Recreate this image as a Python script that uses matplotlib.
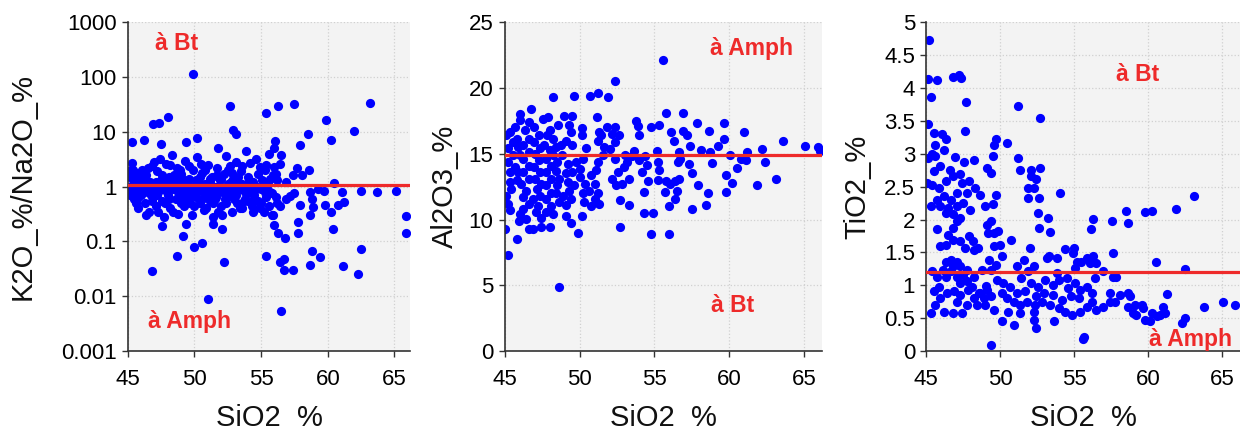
import matplotlib
matplotlib.use("Agg")
import matplotlib.pyplot as plt
from matplotlib.ticker import FuncFormatter, FixedLocator

plt.rcParams['font.family'] = ['Liberation Sans', 'DejaVu Sans']

# ---- data (SiO2 %, value) ----
k2o_na2o = [
    # outliers
    (49.9, 114), (52.7, 30), (55.4, 22), (56.3, 30), (57.5, 32), (63.15, 34),
    (48.0, 19), (46.9, 14), (47.35, 14.5), (59.85, 16.6), (62.0, 10.2),
    (60.25, 7.0), (58.5, 9.1), (57.9, 5.8), (52.9, 11), (53.15, 9.0),
    (45.3, 6.5), (46.2, 7.0), (47.5, 6.0), (50.2, 7.7), (49.35, 6.5), (51.8, 5.0),
    (65.9, 0.29), (65.9, 0.145), (63.7, 0.81), (65.1, 0.82), (62.5, 0.83),
    (60.4, 0.17), (62.5, 0.072), (61.15, 0.035), (62.25, 0.026),
    (58.8, 0.068), (59.4, 0.052), (58.7, 0.037), (56.8, 0.115), (56.25, 0.14),
    (57.8, 0.14), (57.75, 0.23), (55.4, 0.055), (56.4, 0.042), (56.7, 0.047),
    (56.7, 0.03), (57.4, 0.03), (56.5, 0.0055), (51.05, 0.0091), (46.8, 0.029),
    (48.7, 0.055), (49.15, 0.126), (50.0, 0.078), (50.6, 0.093), (52.2, 0.042),
    (47.55, 0.19), (52.05, 0.17), (51.4, 0.21), (49.35, 0.21),
    (60.5, 1.15), (61.05, 0.8), (61.25, 0.52), (60.75, 0.46), (60.25, 0.34),
    (59.8, 0.47), (59.7, 0.82), (59.3, 0.92), (58.9, 0.43), (58.8, 0.6),
    (58.7, 0.8), (58.7, 0.3), (57.9, 0.47), (58.6, 2.0), (58.1, 1.6),
    (57.7, 2.2), (57.4, 1.6), (57.5, 0.75), (57.2, 0.68), (56.9, 0.6),
    (56.9, 1.2), (56.4, 0.45), (56.5, 3.7), (56.4, 2.6), (56.05, 6.8),
    (56.0, 5.0), (56.0, 2.3), (56.1, 1.7), (56.2, 1.3), (56.1, 0.65),
    (56.2, 0.5), (55.9, 0.3), (56.0, 0.2),
    # main cloud
    (45.1, 0.8), (45.2, 1.5), (45.3, 2.7), (45.4, 1.1), (45.5, 0.6), (45.6, 1.8),
    (45.7, 0.9), (45.8, 0.4), (45.9, 1.3), (46.0, 0.7), (46.1, 2.0), (46.2, 1.0),
    (46.3, 0.5), (46.4, 1.6), (46.5, 0.8), (46.6, 0.35), (46.7, 1.2), (46.8, 2.4),
    (46.9, 0.65), (47.0, 1.0), (47.1, 0.45), (47.2, 1.9), (47.3, 0.8), (47.4, 3.2),
    (47.5, 1.3), (47.6, 0.55), (47.7, 0.28), (47.8, 1.0), (47.9, 2.6), (48.0, 0.7),
    (48.1, 1.5), (48.2, 0.4), (48.3, 3.8), (48.4, 0.9), (48.5, 1.2), (48.6, 0.6),
    (48.7, 2.2), (48.8, 0.32), (48.9, 1.0), (49.0, 1.7), (49.1, 0.75), (49.2, 0.45),
    (49.3, 2.9), (49.4, 1.1), (49.5, 0.6), (49.6, 1.4), (49.7, 0.85), (49.8, 0.3),
    (49.9, 2.0), (50.0, 1.0), (50.1, 0.65), (50.2, 3.5), (50.3, 1.2), (50.4, 0.5),
    (50.5, 0.9), (50.6, 1.8), (50.7, 0.38), (50.8, 1.1), (50.9, 0.7), (51.0, 2.5),
    (51.1, 0.9), (51.2, 0.55), (51.3, 1.5), (51.4, 0.28), (51.5, 1.0), (51.6, 0.65),
    (51.7, 2.2), (51.8, 0.8), (51.9, 1.3), (52.0, 0.45), (52.1, 0.95), (52.2, 1.7),
    (52.3, 0.6), (52.4, 3.6), (52.5, 1.1), (52.6, 0.7), (52.7, 2.4), (52.8, 0.35),
    (52.9, 1.4), (53.0, 0.85), (53.1, 2.8), (53.2, 0.5), (53.3, 1.2), (53.4, 0.9),
    (53.5, 1.9), (53.6, 0.4), (53.7, 1.0), (53.8, 0.6), (53.9, 4.5), (54.0, 1.5),
    (54.1, 0.8), (54.2, 2.7), (54.3, 0.45), (54.4, 1.2), (54.5, 0.7), (54.6, 3.2),
    (54.7, 1.0), (54.8, 0.55), (54.9, 2.3), (55.0, 0.9), (55.1, 1.3), (55.2, 0.35),
    (55.3, 2.0), (55.4, 0.65), (55.5, 1.1), (55.6, 4.0), (55.7, 0.8), (55.8, 0.3),
    (55.9, 1.6),
    (45.2, 0.7), (45.4, 2.0), (45.6, 0.5), (45.8, 1.2), (46.0, 1.6), (46.2, 0.8),
    (46.4, 0.3), (46.6, 1.0), (46.8, 0.55), (47.0, 2.8), (47.2, 0.7), (47.4, 1.1),
    (47.6, 1.6), (47.8, 0.5), (48.0, 1.2), (48.2, 2.5), (48.4, 0.35), (48.6, 1.1),
    (48.8, 0.8), (49.0, 0.5), (49.2, 1.3), (49.4, 0.7), (49.6, 2.4), (49.8, 1.0),
    (50.0, 0.45), (50.2, 0.8), (50.4, 1.5), (50.6, 0.6), (50.8, 2.0), (51.0, 0.85),
    (51.2, 1.2), (51.4, 0.5), (51.6, 1.0), (51.8, 0.35), (52.0, 1.4), (52.2, 0.75),
    (52.4, 0.5), (52.6, 1.0), (52.8, 1.8), (53.0, 0.6), (53.2, 1.0), (53.4, 0.4),
    (53.6, 2.4), (53.8, 0.8), (54.0, 0.55), (54.2, 1.1), (54.4, 0.35), (54.6, 0.9),
    (54.8, 1.7), (55.0, 0.5), (55.2, 1.0), (55.4, 2.5), (55.6, 0.45), (55.8, 0.75),
    (45.1, 1.9), (45.3, 0.9), (45.5, 1.4), (45.7, 0.6), (46.1, 1.1), (46.5, 2.2),
    (46.9, 0.9), (47.3, 0.35), (47.7, 1.4), (48.1, 0.6), (48.5, 1.6), (48.9, 2.0),
    (49.3, 0.9), (49.7, 0.5), (50.1, 1.3), (50.5, 2.6), (50.9, 0.4), (51.3, 0.75),
    (51.7, 1.6), (52.1, 0.3), (52.5, 2.0), (52.9, 0.65), (53.3, 1.5), (53.7, 0.55),
    (54.1, 1.3), (54.5, 0.6), (54.9, 0.4), (55.3, 0.8), (55.7, 1.4),
    (45.15, 1.0), (45.45, 0.75), (45.75, 1.5), (46.05, 0.95), (46.35, 1.3),
    (46.75, 0.7), (47.15, 1.2), (47.55, 0.9), (47.95, 0.8), (48.35, 1.0),
    (48.75, 1.3), (49.15, 0.6), (49.55, 1.1), (49.95, 0.7), (50.35, 1.0),
    (50.75, 0.8), (51.15, 1.4), (51.55, 0.6), (51.95, 1.0), (52.35, 0.85),
    (52.75, 1.2), (53.15, 0.7), (53.55, 1.1), (53.95, 0.9), (54.35, 0.75),
]

al2o3 = [
    (55.6, 22.15), (52.4, 20.5), (48.25, 19.3), (49.6, 19.4), (50.7, 19.4),
    (51.2, 19.6), (51.9, 19.3), (46.75, 18.4), (46.0, 18.0), (55.75, 18.1),
    (56.9, 18.1), (63.6, 16.0), (65.05, 15.6), (65.9, 15.5), (66.05, 15.2),
    (63.1, 13.1), (62.4, 14.4), (61.85, 12.6), (62.2, 15.35), (61.0, 16.65),
    (59.65, 17.35), (57.85, 17.3), (58.65, 16.75), (59.8, 12.1), (58.6, 12.0),
    (58.45, 11.1), (57.5, 10.8), (57.9, 12.65), (56.0, 8.9), (54.8, 8.9),
    (54.9, 10.5), (54.3, 10.5), (56.0, 11.0), (56.4, 11.55), (52.7, 9.4),
    (53.3, 11.1), (52.7, 11.45), (49.9, 8.95), (49.45, 9.7), (49.1, 10.25),
    (48.6, 4.85), (45.2, 7.3), (45.0, 9.3), (45.8, 8.5), (46.9, 9.3),
    (47.4, 9.4), (48.0, 9.45), (50.15, 10.3), (59.75, 13.35), (60.2, 12.8),
    (60.5, 13.9), (60.05, 14.9), (60.75, 14.6), (61.1, 14.55), (61.2, 15.1),
    (59.65, 16.1), (59.25, 15.6), (58.85, 14.3), (58.7, 15.1), (58.1, 15.25),
    (57.5, 13.55), (57.3, 14.2), (57.4, 15.6), (57.2, 16.45), (56.9, 16.7),
    (56.3, 16.0), (56.1, 16.65), (55.3, 17.2), (54.75, 17.05), (53.8, 17.5),
    (53.9, 17.1), (53.95, 16.4), (53.65, 15.2), (54.0, 14.55), (54.4, 14.8),
    (54.5, 14.15), (55.15, 15.2), (55.25, 14.35), (55.3, 13.75), (55.25, 13.0),
    (55.8, 12.9), (55.7, 12.1), (56.05, 12.7), (56.4, 12.9), (56.65, 13.1),
    (56.5, 12.2), (56.55, 14.4), (56.7, 14.6), (56.65, 15.1), (54.3, 12.1),
    (54.6, 12.95), (54.2, 13.6), (53.3, 13.1), (52.85, 12.7), (52.45, 12.6),
    (52.2, 13.1), (52.6, 13.6), (52.95, 14.0), (53.2, 14.35), (53.05, 14.9),
    (53.5, 14.85), (52.35, 14.6), (52.05, 15.35), (52.4, 15.9), (52.65, 16.4),
    (52.2, 16.5), (51.85, 17.05), (52.4, 17.05), (51.45, 16.4), (51.2, 16.0),
    (51.3, 16.65), (51.15, 17.8), (51.65, 15.5), (51.55, 14.9), (51.2, 14.4),
    (51.1, 13.75), (50.75, 13.35), (51.0, 12.7), (50.65, 12.2), (51.2, 12.05),
    (51.0, 11.55), (51.3, 11.2), (50.75, 11.05), (50.3, 11.3), (50.2, 12.0),
    (50.35, 12.7), (50.0, 13.2), (50.05, 13.85), (49.75, 14.35), (50.2, 14.6),
    (50.4, 15.4), (50.15, 16.4), (50.15, 16.95), (49.5, 17.9), (48.95, 17.9),
    (49.3, 17.15), (49.4, 16.65), (49.1, 16.0), (49.5, 15.65), (48.75, 15.65),
    (48.85, 14.9), (49.2, 14.25), (49.5, 13.6), (49.1, 13.5), (49.2, 12.85),
    (49.65, 12.6), (49.3, 12.2), (48.9, 11.8), (49.4, 11.55), (49.1, 11.1),
    (48.6, 11.3), (48.4, 12.05), (48.5, 12.6), (48.6, 13.1), (48.4, 13.7),
    (48.5, 14.35), (48.2, 14.9), (48.4, 15.5), (48.2, 16.15), (48.55, 17.2),
    (47.9, 17.8), (47.55, 17.65), (48.0, 16.8), (47.8, 16.4), (47.65, 15.65),
    (48.0, 15.25), (47.75, 14.6), (48.1, 14.1), (47.75, 13.6), (48.1, 13.1),
    (47.75, 12.6), (48.1, 12.05), (47.75, 11.55), (48.1, 11.05), (47.75, 10.55),
    (48.2, 10.4), (47.45, 10.15), (47.1, 10.55), (47.2, 11.05), (46.9, 11.55),
    (47.35, 11.8), (47.15, 12.3), (47.45, 12.7), (47.05, 13.1), (47.35, 13.6),
    (46.95, 14.0), (47.3, 14.5), (47.05, 15.0), (47.35, 15.4), (46.95, 15.9),
    (47.3, 16.4), (46.95, 17.05), (46.6, 17.4), (46.35, 16.8), (46.6, 16.15),
    (46.2, 15.65), (46.6, 15.1), (46.2, 14.6), (46.6, 14.1), (46.2, 13.6),
    (46.6, 13.1), (46.1, 12.7), (46.45, 12.2), (46.2, 11.7), (46.6, 11.2),
    (46.2, 10.8), (46.0, 10.4), (45.95, 9.85), (46.45, 10.05), (46.65, 9.3),
    (45.35, 10.7), (45.25, 11.2), (45.1, 11.8), (45.45, 12.35), (45.8, 13.0),
    (45.35, 13.6), (45.7, 14.0), (45.25, 14.35), (45.55, 14.9), (45.25, 15.4),
    (45.55, 15.9), (45.1, 16.4), (45.35, 16.65), (45.7, 17.05), (46.0, 17.55),
    (45.8, 16.15), (45.9, 15.5), (46.0, 14.9), (45.9, 13.6), (45.35, 12.85),
]

tio2 = [
    (45.2, 4.73), (45.15, 4.13), (45.7, 4.12), (45.3, 3.86), (46.8, 4.17),
    (47.2, 4.2), (47.35, 4.15), (47.7, 3.79), (47.6, 3.34), (51.2, 3.73),
    (52.7, 3.54), (45.15, 3.45), (45.5, 3.32), (46.05, 3.3), (46.35, 3.22),
    (45.6, 3.13), (46.2, 3.05), (45.4, 2.99), (45.6, 2.97), (45.15, 2.94),
    (46.95, 2.95), (47.55, 2.88), (48.2, 2.91), (45.95, 2.81), (46.6, 2.76),
    (45.5, 2.74), (47.25, 2.69), (46.8, 2.66), (46.35, 2.58), (45.05, 2.56),
    (45.4, 2.53), (45.85, 2.48), (47.4, 2.56), (47.9, 2.58), (48.3, 2.48),
    (48.65, 2.38), (47.75, 2.41), (47.05, 2.41), (46.7, 2.3), (46.2, 2.35),
    (45.75, 2.3), (45.3, 2.2), (45.95, 2.2), (46.5, 2.18), (47.05, 2.2),
    (47.5, 2.25), (47.95, 2.15), (46.8, 2.08), (46.35, 2.1), (47.25, 2.03),
    (47.05, 1.98), (46.8, 1.87), (45.75, 1.85), (46.5, 1.77), (46.8, 1.69),
    (47.25, 1.67), (47.9, 1.75), (48.15, 1.67), (47.6, 1.57), (48.2, 1.54),
    (48.5, 1.57), (45.95, 1.59), (46.3, 1.62), (46.65, 1.39), (46.3, 1.36),
    (47.05, 1.36), (46.8, 1.29), (45.4, 1.21), (46.3, 1.13), (47.3, 1.29),
    (47.5, 1.16), (47.75, 1.06), (48.2, 1.13), (48.75, 1.24), (45.85, 0.98),
    (45.5, 0.91), (45.95, 0.8), (45.6, 0.7), (46.4, 0.88), (46.85, 0.91),
    (47.3, 0.86), (47.85, 0.93), (48.2, 0.8), (48.65, 0.88), (49.1, 0.93),
    (48.4, 0.7), (47.75, 0.7), (47.05, 0.75), (46.8, 0.58), (47.4, 0.58),
    (46.2, 0.59), (45.35, 0.58), (49.05, 0.99), (49.35, 1.24), (49.7, 1.31),
    (49.25, 1.39), (49.55, 1.59), (50.0, 1.62), (50.1, 1.44), (49.6, 1.8),
    (49.85, 1.82), (49.2, 1.8), (49.4, 1.97), (49.1, 1.92), (49.5, 2.23),
    (48.95, 2.2), (49.7, 2.38), (49.5, 2.96), (49.35, 2.71), (49.1, 2.79),
    (49.55, 3.13), (49.7, 3.22), (50.45, 3.17), (51.2, 2.93), (51.35, 2.75),
    (52.05, 2.75), (52.05, 2.66), (52.4, 2.61), (51.9, 2.48), (52.25, 2.48),
    (51.9, 2.32), (52.6, 2.32), (52.7, 2.79), (52.55, 2.1), (53.25, 2.03),
    (52.6, 1.87), (53.35, 1.81), (50.75, 1.69), (52.0, 1.57), (53.3, 1.45),
    (53.8, 1.41), (54.35, 1.55), (54.95, 1.57), (54.05, 2.4), (54.9, 1.49),
    (56.1, 1.86), (56.3, 2.01), (57.55, 1.97), (58.5, 2.13), (58.6, 1.94),
    (59.8, 2.12), (60.25, 2.13), (61.9, 2.16), (63.1, 2.35), (60.5, 1.35),
    (62.45, 1.25), (57.6, 1.49), (57.6, 1.12), (57.85, 1.12), (56.95, 1.21),
    (56.4, 1.11), (56.05, 1.34), (56.25, 1.44), (55.85, 1.41), (56.5, 1.34),
    (55.2, 1.35), (55.45, 1.35), (55.05, 1.26), (54.5, 1.11), (53.8, 1.18),
    (53.15, 1.41), (51.6, 1.39), (51.1, 1.29), (52.3, 1.29), (51.85, 1.21),
    (51.4, 1.11), (52.1, 1.03), (52.55, 0.98), (53.0, 1.08), (53.55, 1.0),
    (54.0, 1.08), (54.6, 0.96), (55.05, 1.03), (55.4, 0.93), (55.85, 0.98),
    (56.2, 0.88), (55.35, 0.8), (54.75, 0.83), (54.2, 0.78), (53.55, 0.86),
    (52.95, 0.88), (52.4, 0.83), (51.7, 0.91), (51.1, 0.88), (50.65, 0.98),
    (50.2, 1.03), (49.75, 1.08), (50.1, 0.88), (50.45, 0.8), (50.9, 0.75),
    (51.35, 0.7), (51.8, 0.75), (52.35, 0.7), (52.8, 0.75), (53.35, 0.7),
    (53.95, 0.65), (54.4, 0.6), (54.85, 0.55), (55.4, 0.6), (55.85, 0.67),
    (56.2, 0.75), (56.5, 0.62), (56.95, 0.67), (57.4, 0.75), (57.4, 0.88),
    (57.75, 0.75), (58.1, 0.86), (58.65, 0.88), (58.8, 0.83), (58.65, 0.67),
    (59.1, 0.7), (59.55, 0.7), (59.65, 0.65), (59.2, 0.55), (59.0, 0.58),
    (59.8, 0.47), (60.1, 0.45), (60.25, 0.58), (60.6, 0.53), (60.8, 0.55),
    (61.0, 0.67), (61.15, 0.58), (61.25, 0.87), (62.25, 0.42), (62.45, 0.5),
    (63.75, 0.67), (65.05, 0.75), (65.85, 0.7), (55.6, 0.19), (55.65, 0.22),
    (49.35, 0.09), (50.1, 0.45), (50.9, 0.4), (52.25, 0.47), (52.4, 0.35),
    (53.6, 0.45), (52.25, 0.6), (51.35, 0.58), (50.55, 0.6), (49.55, 0.63),
    (49.0, 0.7), (48.9, 0.8), (49.35, 0.83), (48.55, 0.88), (48.1, 0.98),
    (47.75, 1.24), (47.3, 1.03), (47.05, 1.13), (46.7, 1.21), (46.15, 1.24),
    (45.7, 1.13),
]

ylabels = ['K2O_%/Na2O_%', 'Al2O3_%', 'TiO2_%']
ref_lines = [1.05, 14.9, 1.2]
# (label, x, y) for the red annotations
notes = [
    [('à Bt', 47.05, 400), ('à Amph', 46.5, 0.0035)],
    [('à Amph', 58.7, 23.0), ('à Bt', 58.75, 3.5)],
    [('à Bt', 57.8, 4.2), ('à Amph', 60.05, 0.18)],
]

RED = '#ee2a2a'
BLUE = '#0000ff'

fig = plt.figure(figsize=(12.4, 4.34), dpi=100)
rects = [
    [0.103, 0.191, 0.228, 0.758],
    [0.407, 0.191, 0.256, 0.758],
    [0.747, 0.191, 0.253, 0.758],
]
ylab_x = [-0.372, -0.189, -0.22]
datasets = [k2o_na2o, al2o3, tio2]

for i, (rect, pts) in enumerate(zip(rects, datasets)):
    ax = fig.add_axes(rect)
    ax.set_facecolor('#f3f3f3')
    xs, ys = zip(*pts)
    ax.scatter(xs, ys, s=44, color=BLUE, linewidths=0, zorder=2)
    ax.axhline(ref_lines[i], color=RED, lw=2.3, zorder=3)
    ax.set_xlim(45, 66.2)
    ax.xaxis.set_major_locator(FixedLocator([45, 50, 55, 60, 65]))
    if i == 0:
        ax.set_yscale('log')
        ax.set_ylim(0.001, 1000)
        ax.yaxis.set_major_locator(FixedLocator([0.001, 0.01, 0.1, 1, 10, 100, 1000]))
        ax.yaxis.set_minor_locator(FixedLocator([]))
    elif i == 1:
        ax.set_ylim(0, 25)
        ax.yaxis.set_major_locator(FixedLocator([0, 5, 10, 15, 20, 25]))
    else:
        ax.set_ylim(0, 5)
        ax.yaxis.set_major_locator(FixedLocator([0, 0.5, 1, 1.5, 2, 2.5, 3, 3.5, 4, 4.5, 5]))
    ax.yaxis.set_major_formatter(FuncFormatter(lambda v, p: '%g' % v))
    ax.grid(True, color='#d0d0d0', linestyle=':', linewidth=0.9, zorder=0)
    ax.set_axisbelow(True)
    for side in ['top', 'right']:
        ax.spines[side].set_visible(False)
    for side in ['left', 'bottom']:
        ax.spines[side].set_color('#333333')
        ax.spines[side].set_linewidth(1.2)
    ax.tick_params(direction='out', length=4, width=1, colors='#333333',
                   labelcolor='#000000', labelsize=16)
    ax.tick_params(axis='x', pad=9)
    ax.tick_params(axis='y', pad=4)
    ax.set_xlabel('SiO2  %', fontsize=21, color='#111111', va='center')
    ax.xaxis.set_label_coords(0.5, -0.204)
    ax.set_ylabel(ylabels[i], fontsize=21, color='#111111', va='center')
    ax.yaxis.set_label_coords(ylab_x[i], 0.5)
    for txt, tx, ty in notes[i]:
        ax.text(tx, ty, txt, color=RED, fontsize=16.5, fontweight='bold',
                ha='left', va='center', zorder=4)

fig.savefig('out.png', dpi=100)
